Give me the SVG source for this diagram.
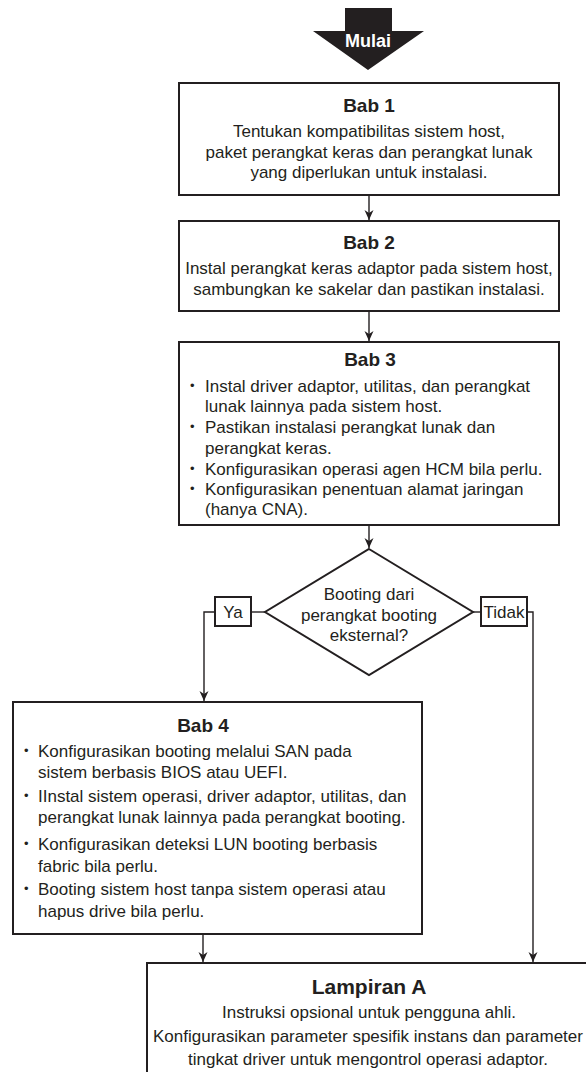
<svg xmlns="http://www.w3.org/2000/svg" width="586" height="1072" viewBox="0 0 586 1072">
<style>
.box{fill:#fff;stroke:#231f20;stroke-width:2}
.t{font-family:"Liberation Sans",Arial,sans-serif;font-size:17px;fill:#231f20}
.b{font-size:13px}
.h{font-family:"Liberation Sans",Arial,sans-serif;font-size:19px;font-weight:bold;fill:#231f20}
.c{text-anchor:middle}
.ln{fill:none;stroke:#231f20;stroke-width:1.4}
</style>
<defs>
<marker id="ah" viewBox="0 0 10 10" refX="10" refY="5" markerWidth="10" markerHeight="10" markerUnits="userSpaceOnUse" orient="auto">
<path d="M0,0.5 L10,5 L0,9.5 L3,5 z" fill="#231f20"/>
</marker>
</defs>
<g id="start">
<path d="M345,8 L392,8 L392,31 L424,31 L368,70 L313,31 L345,31 z" fill="#231f20"/>
<text class="h c" x="368" y="47" style="fill:#fff;font-size:18px">Mulai</text>
</g>
<g id="connectors">
<line class="ln" x1="369" y1="195" x2="369" y2="220" marker-end="url(#ah)"/>
<line class="ln" x1="369" y1="311" x2="369" y2="341" marker-end="url(#ah)"/>
<line class="ln" x1="369" y1="525" x2="369" y2="548" marker-end="url(#ah)"/>
<polyline class="ln" points="265,612 251,612"/>
<polyline class="ln" points="215,612 204,612 204,701" marker-end="url(#ah)"/>
<polyline class="ln" points="473,612 481,612"/>
<polyline class="ln" points="527,612 533,612 533,962" marker-end="url(#ah)"/>
<line class="ln" x1="203" y1="934" x2="203" y2="962" marker-end="url(#ah)"/>
</g>
<g id="bab1">
<rect class="box" x="179" y="83" width="380" height="112"/>
<text class="h c" x="369" y="112">Bab 1</text>
<text class="t c" x="369" y="137">Tentukan kompatibilitas sistem host,</text>
<text class="t c" x="369" y="158">paket perangkat keras dan perangkat lunak</text>
<text class="t c" x="369" y="178">yang diperlukan untuk instalasi.</text>
</g>
<g id="bab2">
<rect class="box" x="179" y="221" width="380" height="90"/>
<text class="h c" x="369" y="249">Bab 2</text>
<text class="t c" x="369" y="274">Instal perangkat keras adaptor pada sistem host,</text>
<text class="t c" x="369" y="295">sambungkan ke sakelar dan pastikan instalasi.</text>
</g>
<g id="bab3">
<rect class="box" x="179" y="342" width="380" height="183"/>
<text class="h c" x="370" y="366">Bab 3</text>
<g class="t">
<text class="b" x="190" y="390">•</text><text x="205" y="392">Instal driver adaptor, utilitas, dan perangkat</text>
<text x="205" y="412">lunak lainnya pada sistem host.</text>
<text class="b" x="190" y="431">•</text><text x="205" y="433">Pastikan instalasi perangkat lunak dan</text>
<text x="205" y="454">perangkat keras.</text>
<text class="b" x="190" y="473">•</text><text x="205" y="475">Konfigurasikan operasi agen HCM bila perlu.</text>
<text class="b" x="190" y="493">•</text><text x="205" y="495">Konfigurasikan penentuan alamat jaringan</text>
<text x="205" y="515">(hanya CNA).</text>
</g>
</g>
<g id="decision">
<polygon points="369,549 473,612 369,675 265,612" fill="#fff" stroke="#231f20" stroke-width="2"/>
<text class="t c" x="369" y="600">Booting dari</text>
<text class="t c" x="369" y="621">perangkat booting</text>
<text class="t c" x="369" y="641">eksternal?</text>
</g>
<g id="ya">
<rect class="box" x="215" y="597" width="36" height="29"/>
<text class="t c" x="233" y="618">Ya</text>
</g>
<g id="tidak">
<rect class="box" x="481" y="597" width="46" height="29"/>
<text class="t c" x="504" y="618">Tidak</text>
</g>
<g id="bab4">
<rect class="box" x="13" y="702" width="409" height="232"/>
<text class="h c" x="203" y="732">Bab 4</text>
<g class="t">
<text class="b" x="24" y="755">•</text><text x="38" y="757">Konfigurasikan booting melalui SAN pada</text>
<text x="38" y="778">sistem berbasis BIOS atau UEFI.</text>
<text class="b" x="24" y="800">•</text><text x="38" y="802">IInstal sistem operasi, driver adaptor, utilitas, dan</text>
<text x="38" y="823">perangkat lunak lainnya pada perangkat booting.</text>
<text class="b" x="24" y="848">•</text><text x="38" y="850">Konfigurasikan deteksi LUN booting berbasis</text>
<text x="38" y="872">fabric bila perlu.</text>
<text class="b" x="24" y="893">•</text><text x="38" y="895">Booting sistem host tanpa sistem operasi atau</text>
<text x="38" y="917">hapus drive bila perlu.</text>
</g>
</g>
<g id="lampiran">
<rect class="box" x="147" y="963" width="460" height="130"/>
<text class="h c" x="369" y="994" style="font-size:21px">Lampiran A</text>
<text class="t c" x="369" y="1018">Instruksi opsional untuk pengguna ahli.</text>
<text class="t c" x="368" y="1042">Konfigurasikan parameter spesifik instans dan parameter</text>
<text class="t c" x="368" y="1065">tingkat driver untuk mengontrol operasi adaptor.</text>
</g>
</svg>
